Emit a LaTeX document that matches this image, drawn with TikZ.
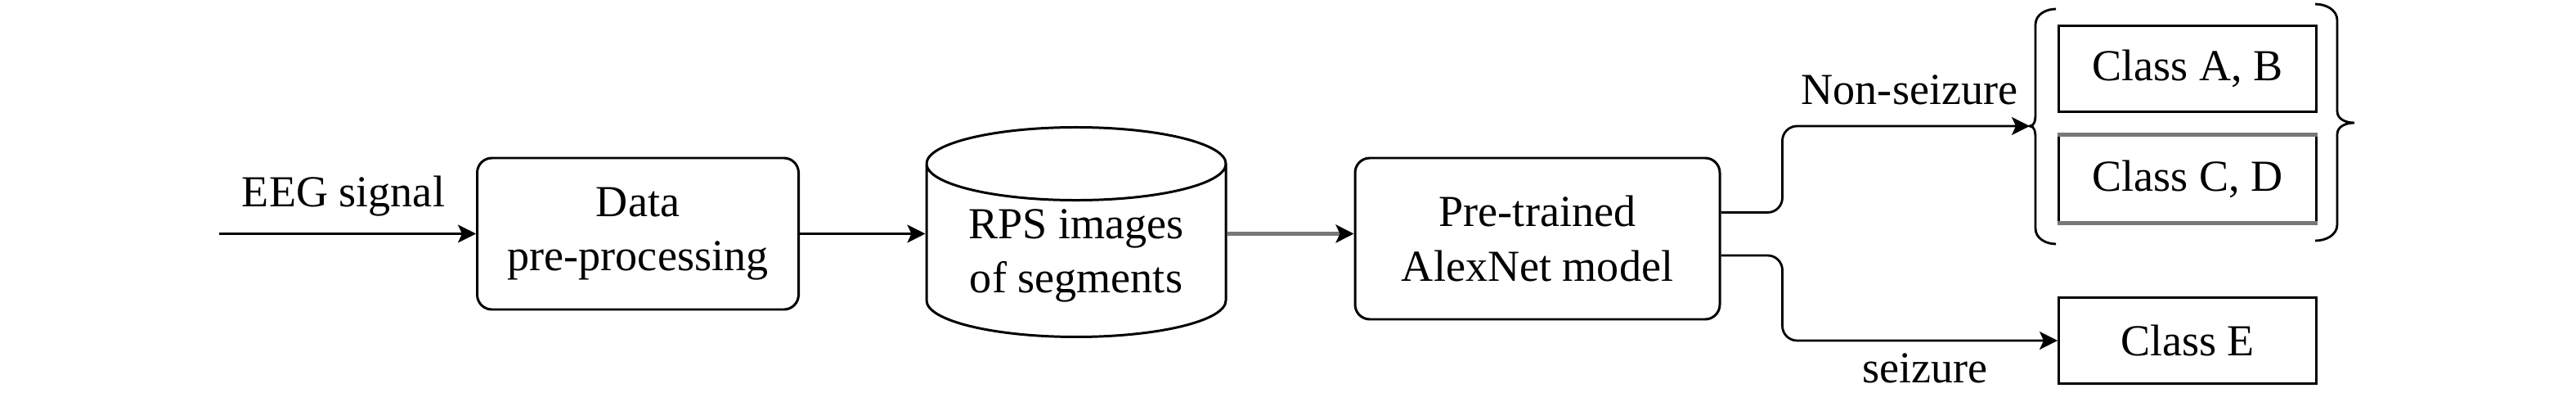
\documentclass[tikz,border=0pt]{standalone}
\usepackage{fontspec}
\setmainfont{Liberation Serif}
\definecolor{edgegray}{RGB}{118, 120, 124}
\usetikzlibrary{shapes.geometric, arrows.meta, positioning, calc}

\begin{document}
\begin{tikzpicture}[
  font=\fontsize{15.4}{18.8}\selectfont,
  procbox/.style={draw, rounded corners=0.18cm, align=center, line width=0.85pt},
  classbox/.style={draw, minimum width=3.15cm, minimum height=1.05cm, line width=0.85pt},
  flow/.style={-{Stealth[length=0.22cm, width=0.22cm, inset=0.05cm]}, line width=0.8pt},
  dbcyl/.style={draw, cylinder, shape border rotate=90, aspect=3.8, minimum width=3.66cm, minimum height=2.56cm, line width=0.85pt}
]
  \useasboundingbox (0,0) rectangle (31.5,-4.91);

  % processing chain
  \node[procbox, minimum width=3.93cm, minimum height=1.85cm] (prep) at (7.80,-2.855) {Data\\pre-processing};
  \node[dbcyl, anchor=north] (rps) at (13.16,-1.54) {};
  \node[align=center] (rpstext) at (13.16,-3.12) {RPS images\\of segments};
  \node[procbox, minimum width=4.46cm, minimum height=1.97cm] (alexnet) at (18.80,-2.915) {Pre-trained\\AlexNet model};

  % input
  \coordinate[left=3.14cm of prep.west] (input);
  \node[anchor=base] (eeglabel) at (4.20,-2.53) {EEG signal};

  % classes
  \node[classbox] (classab) at (26.75,-0.84) {Class A, B};
  \node[classbox] (classcd) at (26.75,-2.185) {Class C, D};
  \node[classbox] (classe) at (26.75,-4.16) {Class E};
  \draw[edgegray, line width=1.2pt] (classcd.north west) -- (classcd.north east);
  \draw[edgegray, line width=1.2pt] (classcd.south west) -- (classcd.south east);

  % braces round the non-seizure classes
  \coordinate (braceleft) at (24.82,-1.54);
  \draw[line width=0.8pt] (25.14,-0.11) to[out=180,in=90] (24.89,-0.30) -- (24.89,-1.40)
    to[out=-90,in=0] (braceleft) to[out=0,in=90] (24.89,-1.68) -- (24.89,-2.79)
    to[out=-90,in=180] (25.14,-2.98);
  \draw[line width=0.8pt] (28.31,-0.05) to[out=0,in=90] (28.58,-0.25) -- (28.58,-1.36)
    to[out=-90,in=180] (28.79,-1.50) to[out=180,in=90] (28.58,-1.64) -- (28.58,-2.74)
    to[out=-90,in=0] (28.31,-2.94);

  % connectors
  \draw[flow] (input) -- (prep.west);
  \draw[flow] (prep.east) -- (prep.east -| rps.west);
  \draw[flow, edgegray, line width=1.4pt, -{Stealth[length=0.22cm, width=0.22cm, inset=0.05cm, black]}] (prep.east -| rps.east) -- (prep.east -| alexnet.west);
  \draw[flow, rounded corners=0.18cm] ([yshift=0.32cm]alexnet.east) -- ++(0.75,0) |- (braceleft);
  \draw[flow, rounded corners=0.18cm] ([yshift=-0.205cm]alexnet.east) -- ++(0.75,0) |- (classe.west);

  % branch labels
  \node[anchor=base] (nonseizure) at (23.35,-1.27) {Non-seizure};
  \node[anchor=base] (seizure) at (23.54,-4.67) {seizure};
\end{tikzpicture}
\end{document}
